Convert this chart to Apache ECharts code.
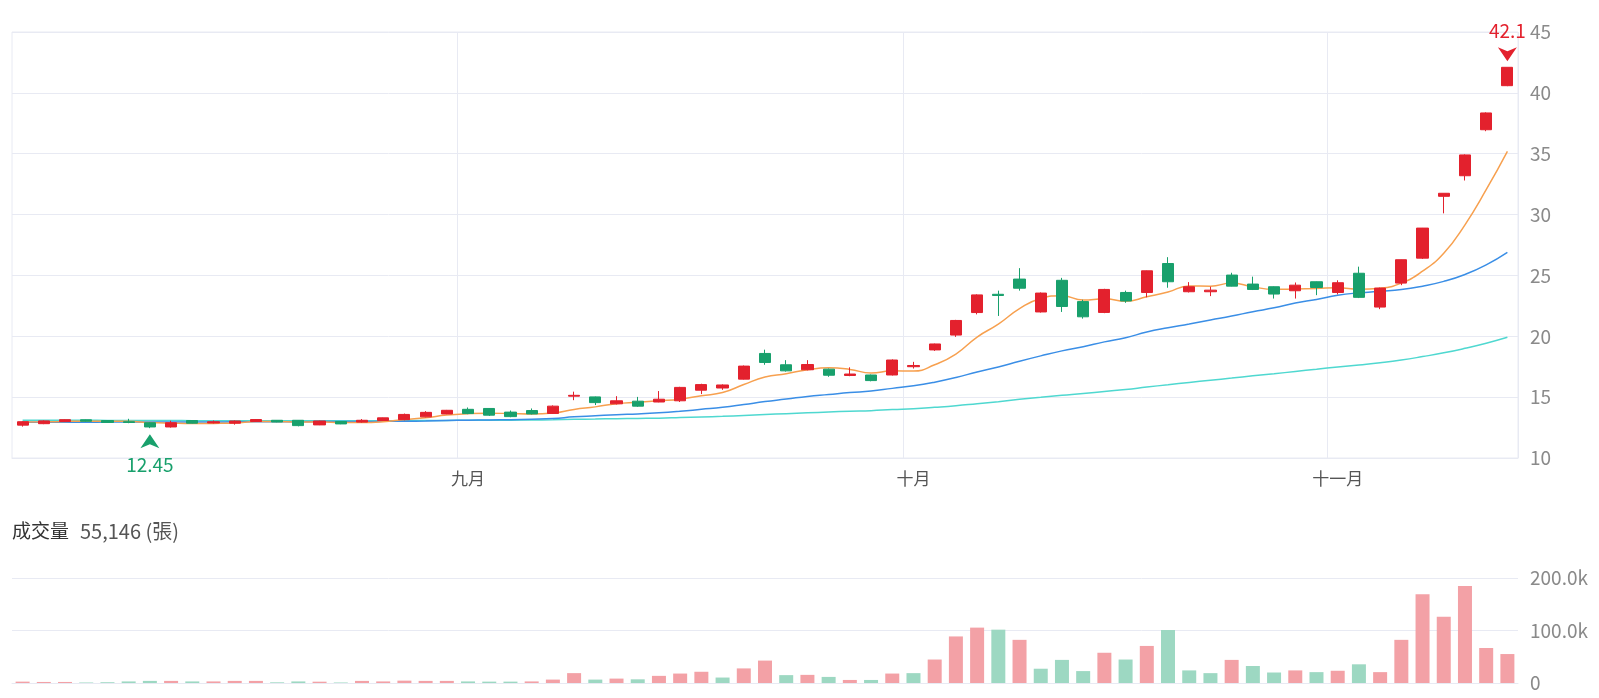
<!DOCTYPE html>
<html>
<head>
<meta charset="utf-8">
<title>K線</title>
<script src="https://cdn.jsdelivr.net/npm/echarts@6/dist/echarts.min.js"></script>
<style>
  html, body { margin: 0; padding: 0; background: #fff; }
  #chart { width: 1599px; height: 698px; }
</style>
</head>
<body>
<div id="chart"></div>
<script>
// trading days, Aug - Nov
const dates = [
  '2025/08/01', '2025/08/04', '2025/08/05', '2025/08/06', '2025/08/07', '2025/08/08', '2025/08/11', '2025/08/12', '2025/08/13', '2025/08/14',
  '2025/08/15', '2025/08/18', '2025/08/19', '2025/08/20', '2025/08/21', '2025/08/22', '2025/08/25', '2025/08/26', '2025/08/27', '2025/08/28',
  '2025/08/29', '2025/09/01', '2025/09/02', '2025/09/03', '2025/09/04', '2025/09/05', '2025/09/08', '2025/09/09', '2025/09/10', '2025/09/11',
  '2025/09/12', '2025/09/15', '2025/09/16', '2025/09/17', '2025/09/18', '2025/09/19', '2025/09/22', '2025/09/23', '2025/09/24', '2025/09/25',
  '2025/09/26', '2025/09/30', '2025/10/01', '2025/10/02', '2025/10/03', '2025/10/07', '2025/10/08', '2025/10/09', '2025/10/13', '2025/10/14',
  '2025/10/15', '2025/10/16', '2025/10/17', '2025/10/20', '2025/10/21', '2025/10/22', '2025/10/23', '2025/10/27', '2025/10/28', '2025/10/29',
  '2025/10/30', '2025/10/31', '2025/11/03', '2025/11/04', '2025/11/05', '2025/11/06', '2025/11/07', '2025/11/10', '2025/11/11', '2025/11/12',
  '2025/11/13'
];
const monthLabels = { '09': '九月', '10': '十月', '11': '十一月' };

const opens = [
  12.70, 12.82, 13.00, 13.14, 13.08, 12.98, 12.90, 12.55, 13.08, 12.88,
  12.86, 13.00, 13.10, 13.10, 12.72, 13.00, 12.95, 13.08, 13.15, 13.38,
  13.62, 14.00, 14.07, 13.77, 13.90, 13.66, 15.08, 15.02, 14.45, 14.67,
  14.60, 14.70, 15.57, 15.75, 16.48, 18.59, 17.66, 17.25, 17.30, 16.78,
  16.82, 16.82, 17.50, 18.88, 20.10, 21.95, 23.45, 24.70, 22.00, 24.60,
  22.85, 21.96, 23.60, 23.60, 25.98, 23.66, 23.66, 25.03, 24.29, 24.07,
  23.74, 24.48, 23.60, 25.18, 22.40, 24.37, 26.42, 31.50, 33.19, 36.97,
  40.59
];
const closes = [
  12.98, 13.05, 13.15, 13.02, 12.92, 12.92, 12.55, 12.90, 12.86, 12.98,
  13.04, 13.16, 12.96, 12.66, 13.04, 12.80, 13.10, 13.30, 13.58, 13.75,
  13.92, 13.65, 13.52, 13.40, 13.62, 14.26, 15.15, 14.55, 14.70, 14.26,
  14.83, 15.80, 16.03, 16.00, 17.55, 17.85, 17.16, 17.68, 16.80, 16.90,
  16.36, 18.05, 17.60, 19.37, 21.30, 23.40, 23.35, 23.95, 23.55, 22.45,
  21.60, 23.85, 22.90, 25.38, 24.48, 24.07, 23.79, 24.12, 23.85, 23.47,
  24.20, 24.01, 24.40, 23.20, 23.96, 26.29, 28.89, 31.75, 34.90, 38.35,
  42.10
];
const lows = [
  12.58, 12.78, 12.96, 12.98, 12.90, 12.86, 12.45, 12.50, 12.84, 12.84,
  12.74, 12.98, 12.94, 12.60, 12.70, 12.78, 12.90, 13.06, 13.10, 13.35,
  13.60, 13.60, 13.45, 13.35, 13.58, 13.62, 14.75, 14.35, 14.40, 14.20,
  14.58, 14.60, 15.25, 15.60, 16.45, 17.66, 17.10, 17.20, 16.67, 16.72,
  16.30, 16.78, 17.35, 18.80, 19.95, 21.80, 21.67, 23.75, 21.95, 22.00,
  21.45, 21.90, 22.75, 23.20, 23.99, 23.60, 23.30, 24.10, 23.80, 23.10,
  23.10, 23.38, 23.44, 23.14, 22.23, 24.20, 26.35, 30.10, 32.80, 36.85,
  40.55
];
const highs = [
  13.02, 13.10, 13.18, 13.16, 13.10, 13.22, 12.94, 13.06, 13.10, 13.08,
  13.08, 13.20, 13.12, 13.12, 13.06, 13.02, 13.20, 13.32, 13.65, 13.85,
  13.95, 14.15, 14.10, 13.90, 14.07, 14.32, 15.45, 15.05, 15.08, 15.02,
  15.50, 15.85, 16.10, 16.05, 17.60, 18.90, 18.04, 18.04, 17.35, 17.45,
  16.86, 18.10, 17.90, 19.40, 21.35, 23.45, 23.75, 25.60, 23.60, 24.80,
  23.00, 23.90, 23.75, 25.40, 26.50, 24.45, 24.07, 25.22, 24.90, 24.10,
  24.42, 24.50, 24.60, 25.72, 24.00, 26.30, 28.90, 31.75, 34.95, 38.40,
  42.10
];

// moving averages as drawn (5 / 20 / 60 days)
const ma5 = [
  12.95, 12.97, 13.00, 13.02, 13.02, 13.01, 12.91, 12.86, 12.83, 12.84,
  12.87, 12.99, 13.00, 12.96, 12.97, 12.92, 12.91, 12.98, 13.16, 13.31,
  13.53, 13.64, 13.68, 13.65, 13.62, 13.69, 13.99, 14.20, 14.46, 14.58,
  14.70, 14.83, 15.12, 15.38, 16.04, 16.65, 16.92, 17.25, 17.41, 17.28,
  16.98, 17.16, 17.14, 17.66, 18.54, 19.94, 21.00, 22.27, 23.11, 23.34,
  22.98, 23.08, 22.87, 23.24, 23.64, 24.14, 24.12, 24.37, 24.06, 23.86,
  23.89, 23.93, 23.99, 23.86, 23.95, 24.37, 25.35, 26.82, 29.16, 32.04,
  35.20
];
const ma20 = [
  12.93, 12.93, 12.94, 12.94, 12.95, 12.95, 12.95, 12.96, 12.96, 12.96,
  12.97, 12.97, 12.98, 12.98, 12.99, 12.99, 13.00, 13.01, 13.02, 13.04,
  13.08, 13.11, 13.13, 13.15, 13.19, 13.25, 13.38, 13.47, 13.56, 13.62,
  13.71, 13.84, 14.00, 14.16, 14.39, 14.64, 14.84, 15.06, 15.22, 15.38,
  15.50, 15.72, 15.93, 16.23, 16.61, 17.07, 17.48, 17.95, 18.39, 18.80,
  19.14, 19.54, 19.88, 20.35, 20.70, 21.01, 21.34, 21.66, 22.02, 22.34,
  22.74, 23.03, 23.37, 23.57, 23.70, 23.84, 24.12, 24.51, 25.08, 25.87,
  26.90
];
const ma60 = [
  13.10, 13.10, 13.10, 13.10, 13.09, 13.09, 13.08, 13.08, 13.07, 13.07,
  13.07, 13.07, 13.07, 13.06, 13.06, 13.06, 13.06, 13.06, 13.07, 13.08,
  13.09, 13.10, 13.11, 13.11, 13.12, 13.14, 13.18, 13.20, 13.23, 13.25,
  13.27, 13.32, 13.37, 13.42, 13.49, 13.57, 13.64, 13.71, 13.78, 13.84,
  13.89, 13.98, 14.05, 14.16, 14.29, 14.46, 14.63, 14.82, 14.99, 15.15,
  15.29, 15.47, 15.63, 15.83, 16.02, 16.21, 16.39, 16.57, 16.75, 16.92,
  17.11, 17.29, 17.48, 17.65, 17.83, 18.05, 18.33, 18.64, 19.01, 19.43,
  19.92
];

// 成交量 (張)
const volumes = [
  2600, 2000, 2000, 1000, 1500, 3000, 4000, 4000, 3000, 3000,
  4000, 4000, 1300, 3000, 2500, 1000, 4000, 3000, 4500, 4000,
  4000, 3000, 2600, 2600, 3000, 6500, 18800, 6500, 8400, 7000,
  13600, 18000, 21400, 10400, 27800, 42700, 15000, 15500, 11600, 5800,
  5800, 18000, 18800, 44700, 88700, 105500, 101600, 82200, 27200, 44000,
  22700, 57600, 44700, 70600, 101000, 24000, 18800, 44000, 32400, 20000,
  24000, 20700, 23300, 35600, 20700, 82200, 169000, 126000, 185000, 66700,
  55146
];

const UP = '#e3212d';
const DOWN = '#18a06c';
const VOL_UP = '#f3a1a6';
const VOL_DOWN = '#9dd8c2';
const GRID_LINE = '#e8eaf3';
const FONT = '"Noto Sans CJK TC", "Noto Sans", sans-serif';

const monthOf = (d) => d.split('/')[1];
const isMonthStart = (i) => i > 0 && monthOf(dates[i]) !== monthOf(dates[i - 1]);

const kData = dates.map((d, i) => [opens[i], closes[i], lows[i], highs[i]]);
const volData = volumes.map((v, i) => ({
  value: v,
  itemStyle: { color: i === 0 || closes[i] > closes[i - 1] ? VOL_UP : VOL_DOWN }
}));

const ARROW_UP = 'path://M9,0 L18,14 L9,10 L0,14 Z';
const ARROW_DOWN = 'path://M0,0 L9,4 L18,0 L9,14 Z';

const maLine = (name, data, color) => ({
  name,
  type: 'line',
  data,
  xAxisIndex: 0,
  yAxisIndex: 0,
  symbol: 'none',
  smooth: true,
  lineStyle: { color, width: 1.5 },
  z: 3
});

const myChart = echarts.init(document.getElementById('chart'));

const options = {
  animation: false,
  textStyle: { fontFamily: FONT },
  title: {
    left: 12,
    top: 521,
    padding: 0,
    text: '{a|成交量}{b|' + volumes[volumes.length - 1].toLocaleString('en-US') + ' (張)}',
    textStyle: {
      fontWeight: 'normal',
      rich: {
        a: { fontSize: 19, color: '#333', fontFamily: FONT, fontWeight: 'normal', padding: [0, 11, 0, 0] },
        b: { fontSize: 20, color: '#555', fontFamily: FONT, fontWeight: 'normal' }
      }
    }
  },
  grid: [
    { left: 12, right: 81, top: 32, height: 426, show: true, borderColor: GRID_LINE, borderWidth: 1 },
    { left: 12, right: 81, top: 578, height: 105 }
  ],
  xAxis: [
    {
      type: 'category',
      gridIndex: 0,
      data: dates,
      boundaryGap: true,
      axisLine: { lineStyle: { color: GRID_LINE } },
      axisTick: { show: false },
      axisLabel: {
        interval: (i) => isMonthStart(i),
        formatter: (v) => monthLabels[monthOf(v)] || '',
        color: '#555',
        fontSize: 17,
        margin: 12
      },
      splitLine: { show: true, interval: (i) => isMonthStart(i), lineStyle: { color: GRID_LINE } }
    },
    {
      type: 'category',
      gridIndex: 1,
      data: dates,
      boundaryGap: true,
      axisLine: { lineStyle: { color: GRID_LINE } },
      axisTick: { show: false },
      axisLabel: { show: false },
      splitLine: { show: false }
    }
  ],
  yAxis: [
    {
      type: 'value',
      gridIndex: 0,
      position: 'right',
      min: 10,
      max: 45,
      interval: 5,
      axisLine: { show: false },
      axisTick: { show: false },
      axisLabel: { color: '#8a8a8a', fontSize: 19, margin: 12 },
      splitLine: { lineStyle: { color: GRID_LINE } }
    },
    {
      type: 'value',
      gridIndex: 1,
      position: 'right',
      min: 0,
      max: 200000,
      interval: 100000,
      axisLine: { show: false },
      axisTick: { show: false },
      axisLabel: {
        color: '#8a8a8a',
        fontSize: 19,
        margin: 12,
        formatter: (v) => (v === 0 ? '0' : (v / 1000).toFixed(1) + 'k')
      },
      splitLine: { lineStyle: { color: GRID_LINE } }
    }
  ],
  series: [
    {
      name: 'K',
      type: 'candlestick',
      data: kData,
      xAxisIndex: 0,
      yAxisIndex: 0,
      barWidth: '55%',
      itemStyle: {
        color: UP,
        color0: DOWN,
        borderColor: UP,
        borderColor0: DOWN,
        borderWidth: 1
      },
      z: 4,
      markPoint: {
        data: [
          {
            type: 'max',
            valueDim: 'highest',
            symbol: ARROW_DOWN,
            symbolSize: [19, 14],
            symbolOffset: [0, -13],
            itemStyle: { color: UP },
            label: {
              show: true,
              position: 'top',
              distance: 7,
              color: UP,
              fontSize: 19,
              formatter: (p) => String(p.value)
            }
          },
          {
            type: 'min',
            valueDim: 'lowest',
            symbol: ARROW_UP,
            symbolSize: [19, 14],
            symbolOffset: [0, 13],
            itemStyle: { color: DOWN },
            label: {
              show: true,
              position: 'bottom',
              distance: 7,
              color: DOWN,
              fontSize: 19,
              formatter: (p) => String(p.value)
            }
          }
        ]
      }
    },
    maLine('MA60', ma60, '#4fd8d0'),
    maLine('MA20', ma20, '#3a8ee6'),
    maLine('MA5', ma5, '#f7a04f'),
    {
      name: '成交量',
      type: 'bar',
      data: volData,
      xAxisIndex: 1,
      yAxisIndex: 1,
      barWidth: '66%'
    }
  ]
};

myChart.setOption(options);
</script>
</body>
</html>
